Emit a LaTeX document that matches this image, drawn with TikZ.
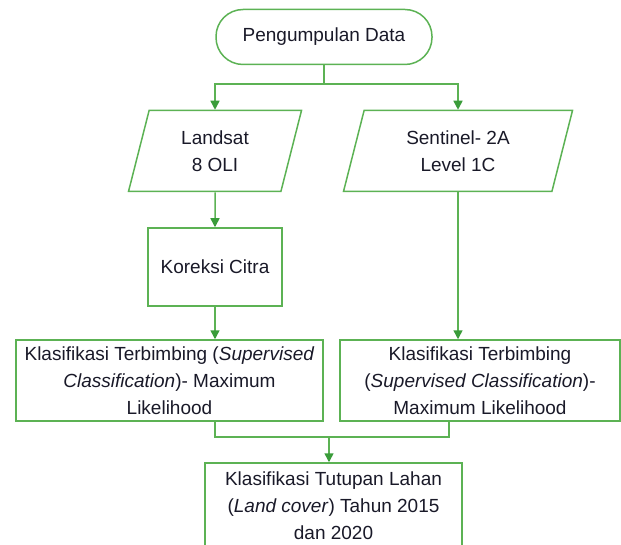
\documentclass[tikz,border=0pt]{standalone}
\usepackage{fontspec}
\setmainfont{Liberation Sans}
\usetikzlibrary{positioning, arrows.meta, shapes.geometric, calc}
\definecolor{flowgreen}{RGB}{92,178,84}
\definecolor{tipgreen}{RGB}{58,156,58}
\definecolor{textdark}{RGB}{25,25,40}

\begin{document}
\begin{tikzpicture}[x=1pt, y=-1pt,
    every node/.style={font=\fontsize{19}{27}\selectfont, text=textdark},
    box/.style={rectangle, draw=flowgreen, line width=1.5pt, align=center, inner sep=2pt},
    terminal/.style={box, rounded corners=27pt, minimum width=216pt, minimum height=55pt},
    datain/.style={trapezium, draw=flowgreen, line width=1.5pt, align=center,
        trapezium left angle=66.6, trapezium right angle=113.4, trapezium stretches body,
        minimum height=81pt},
    line/.style={draw=flowgreen, line width=1.5pt},
    arrow/.style={line, -{Triangle[length=9pt, width=9pt, color=tipgreen]}}
]
    \useasboundingbox (0,0) rectangle (621,545);

    % === MULAI ===
    \node[terminal] (start) at (324,37) {Pengumpulan Data};

    % === DATA CITRA ===
    \node[datain, minimum width=173pt] (landsat) at (215,151) {Landsat\\8 OLI};
    \node[datain, minimum width=229pt] (sentinel) at (458,151) {Sentinel- 2A\\Level 1C};

    % === PRA-PROSES ===
    \node[box, minimum width=134pt, minimum height=78pt] (koreksi) at (215,267) {Koreksi Citra};

    % === KLASIFIKASI ===
    \node[box, minimum width=307pt, minimum height=81pt] (cls1) at (169.5,380.5) {
        Klasifikasi Terbimbing (\textit{Supervised}\\
        \textit{Classification})- Maximum\\
        Likelihood};
    \node[box, minimum width=280pt, minimum height=81pt] (cls2) at (480,380.5) {
        Klasifikasi Terbimbing\\
        (\textit{Supervised Classification})-\\
        Maximum Likelihood};

    % === HASIL ===
    \node[box, minimum width=257pt, minimum height=86pt] (hasil) at (333.5,506) {
        Klasifikasi Tutupan Lahan\\
        (\textit{Land cover}) Tahun 2015\\
        dan 2020};

    % === PANAH ===
    \coordinate (split) at (324,84);
    \coordinate (rdrop) at (449,421);
    \coordinate (merge) at (329,437);
    \draw[line] (start.south) -- (split);
    \draw[arrow] (split) -| (landsat.north);
    \draw[arrow] (split) -| (sentinel.north);
    \draw[arrow] (landsat.south) -- (koreksi.north);
    \draw[arrow] (koreksi.south) -- (koreksi.south |- cls1.north);
    \draw[arrow] (sentinel.south) -- (sentinel.south |- cls2.north);
    \draw[line] (koreksi.south |- cls1.south) |- (merge);
    \draw[line] (rdrop) |- (merge);
    \draw[arrow] (merge) -- (merge |- hasil.north);

\end{tikzpicture}
\end{document}
